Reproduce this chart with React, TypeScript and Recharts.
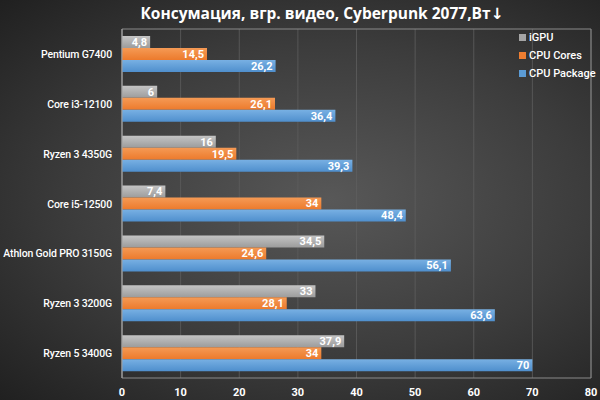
import { Bar, BarChart, CartesianGrid, LabelList, ReferenceArea, XAxis, YAxis } from 'recharts'

const cpus = [
  'Pentium G7400',
  'Core i3-12100',
  'Ryzen 3 4350G',
  'Core i5-12500',
  'Athlon Gold PRO 3150G',
  'Ryzen 3 3200G',
  'Ryzen 5 3400G',
]
const igpu = [4.8, 6, 16, 7.4, 34.5, 33, 37.9]
const cpuCores = [14.5, 26.1, 19.5, 34, 24.6, 28.1, 34]
const cpuPackage = [26.2, 36.4, 39.3, 48.4, 56.1, 63.6, 70]
const xTicks = [0, 10, 20, 30, 40, 50, 60, 70, 80]

const data = cpus.map((name, i) => ({
  name,
  igpu: igpu[i],
  cores: cpuCores[i],
  pkg: cpuPackage[i],
}))

const series = [
  { key: 'igpu', label: 'iGPU', color: '#a5a5a5', fill: 'url(#gGray)' },
  { key: 'cores', label: 'CPU Cores', color: '#ed7d31', fill: 'url(#gOrange)' },
  { key: 'pkg', label: 'CPU Package', color: '#5b9bd5', fill: 'url(#gBlue)' },
]

const font = '"Open Sans", "DejaVu Sans", sans-serif'
const narrow = 'Roboto, "Open Sans", sans-serif'
const fmt = (v: any) => String(v).replace('.', ',')

// plain text tick so long names never wrap
function CpuTick({ x, y, payload }: any) {
  return (
    <text x={x} y={y} dy={4} textAnchor="end" fill="#fff" fontSize={10.5} fontWeight={500} fontFamily={narrow} letterSpacing={-0.15}>
      {payload.value}
    </text>
  )
}

function LegendBox() {
  return (
    <div
      style={{
        position: 'absolute',
        top: 28,
        left: 519,
        fontSize: 11,
        fontWeight: 500,
        fontFamily: narrow,
        color: '#fff',
      }}
    >
      {series.map(s => (
        <div key={s.key} style={{ display: 'flex', alignItems: 'center', height: 18 }}>
          <span style={{ width: 7, height: 7, background: s.color, marginRight: 3, display: 'inline-block' }} />
          {s.label}
        </div>
      ))}
    </div>
  )
}

export default function App() {
  return (
    <div
      style={{
        position: 'absolute',
        left: 0,
        top: 0,
        width: 600,
        height: 400,
        background: 'radial-gradient(ellipse at 55% 50%, #585858 0%, #3c3c3c 55%, #202020 100%)',
        fontFamily: font,
      }}
    >
      <div
        style={{
          position: 'absolute',
          top: 2,
          left: 22,
          width: 600,
          textAlign: 'center',
          color: '#fff',
          fontSize: 15.5,
          fontWeight: 700,
        }}
      >
        Консумация, вгр. видео, Cyberpunk 2077,Вт↓
      </div>
      <BarChart
        width={600}
        height={400}
        data={data}
        layout="vertical"
        margin={{ top: 29, right: 9, bottom: 0, left: 0 }}
        barCategoryGap="14%"
        barGap={0}
      >
        <defs>
          <linearGradient id="gGray" x1="0" x2="0" y1="0" y2="1">
            <stop offset="0%" stopColor="#c4c4c4" />
            <stop offset="100%" stopColor="#9c9c9c" />
          </linearGradient>
          <linearGradient id="gOrange" x1="0" x2="0" y1="0" y2="1">
            <stop offset="0%" stopColor="#f59a55" />
            <stop offset="100%" stopColor="#ec7a2c" />
          </linearGradient>
          <linearGradient id="gBlue" x1="0" x2="0" y1="0" y2="1">
            <stop offset="0%" stopColor="#78b0e3" />
            <stop offset="100%" stopColor="#4f8fcd" />
          </linearGradient>
        </defs>
        <CartesianGrid horizontal={false} stroke="#5e5e5e" strokeOpacity={0.8} />
        <ReferenceArea x1={0} x2={80} fill="none" stroke="#8a8a8a" strokeWidth={1} />
        <XAxis
          type="number"
          domain={[0, 80]}
          ticks={xTicks}
          axisLine={false}
          tickLine={false}
          height={22}
          tickMargin={4}
          tick={{ fill: '#fff', fontSize: 11, fontWeight: 700, fontFamily: narrow }}
        />
        <YAxis
          type="category"
          dataKey="name"
          width={122}
          axisLine={{ stroke: '#a0a0a0' }}
          tickLine={false}
          tickMargin={4}
          tick={<CpuTick />}
        />
        {series.map(s => (
          <Bar key={s.key} dataKey={s.key} name={s.label} fill={s.fill} barSize={12} isAnimationActive={false}>
            <LabelList
              dataKey={s.key}
              position="insideRight"
              formatter={fmt}
              fill="#fff"
              fontSize={11}
              fontWeight={700}
              fontFamily={narrow}
              offset={3}
            />
          </Bar>
        ))}
      </BarChart>
      <LegendBox />
    </div>
  )
}
